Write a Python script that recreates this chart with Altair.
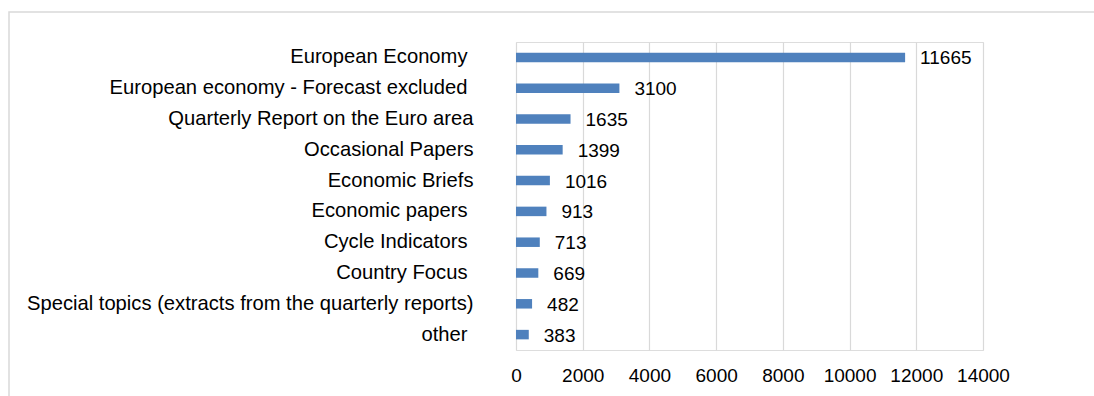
import altair as alt
import pandas as pd

categories = [
    "European Economy",
    "European economy - Forecast excluded",
    "Quarterly Report on the Euro area",
    "Occasional Papers",
    "Economic Briefs",
    "Economic papers",
    "Cycle Indicators",
    "Country Focus",
    "Special topics (extracts from the quarterly reports)",
    "other",
]
values = [11665, 3100, 1635, 1399, 1016, 913, 713, 669, 482, 383]
x_ticks = [0, 2000, 4000, 6000, 8000, 10000, 12000, 14000]
# labels that carry a trailing space in the original
trailing_space = ["European Economy", "European economy - Forecast excluded",
                  "Economic papers", "Cycle Indicators", "Country Focus", "other"]

df = pd.DataFrame({"category": categories, "value": values})

FONT = "Liberation Sans"
test = "indexof([" + ",".join("'" + c + "'" for c in trailing_space) + "], datum.value) >= 0"
y_enc = alt.Y("category:N", sort=categories, title=None,
              scale=alt.Scale(paddingInner=0, paddingOuter=0),
              axis=alt.Axis(domain=False, ticks=False,
                            labelPadding={"condition": {"test": test, "value": 49}, "value": 43},
                            labelFontSize=20.2, labelFont=FONT, labelColor="#000000",
                            labelLimit=600, grid=False))
x_enc = alt.X("value:Q", title=None,
              scale=alt.Scale(domain=[0, 14000], nice=False),
              axis=alt.Axis(values=x_ticks, domain=False, ticks=False, grid=True,
                            gridColor="#D9D9D9", gridWidth=1.2, labelPadding=16,
                            labelFontSize=19, labelFont=FONT, labelColor="#000000",
                            format="d", labelFlush=False))

bars = alt.Chart(df).mark_bar(size=9.5, color="#4F81BD").encode(y=y_enc, x=x_enc)
labels = alt.Chart(df).mark_text(align="left", baseline="middle", dx=15, dy=1,
                                 fontSize=19, font=FONT, color="#000000").encode(
    y=alt.Y("category:N", sort=categories), x="value:Q", text="value:Q")

frame = alt.Chart(pd.DataFrame({"f": [0]})).mark_rect(
    fill=None, stroke="#D9D9D9", strokeWidth=1.5).encode(
    x=alt.value(-507), x2=alt.value(620), y=alt.value(-30), y2=alt.value(400))

chart = alt.layer(frame, bars, labels).properties(
    width=467, height=308, autosize="none",
    padding={"left": 516, "top": 42, "right": 111, "bottom": 46},
).configure_view(stroke=None).configure(background="white")

chart.save("out.html", embed_options={"renderer": "svg", "actions": False})
